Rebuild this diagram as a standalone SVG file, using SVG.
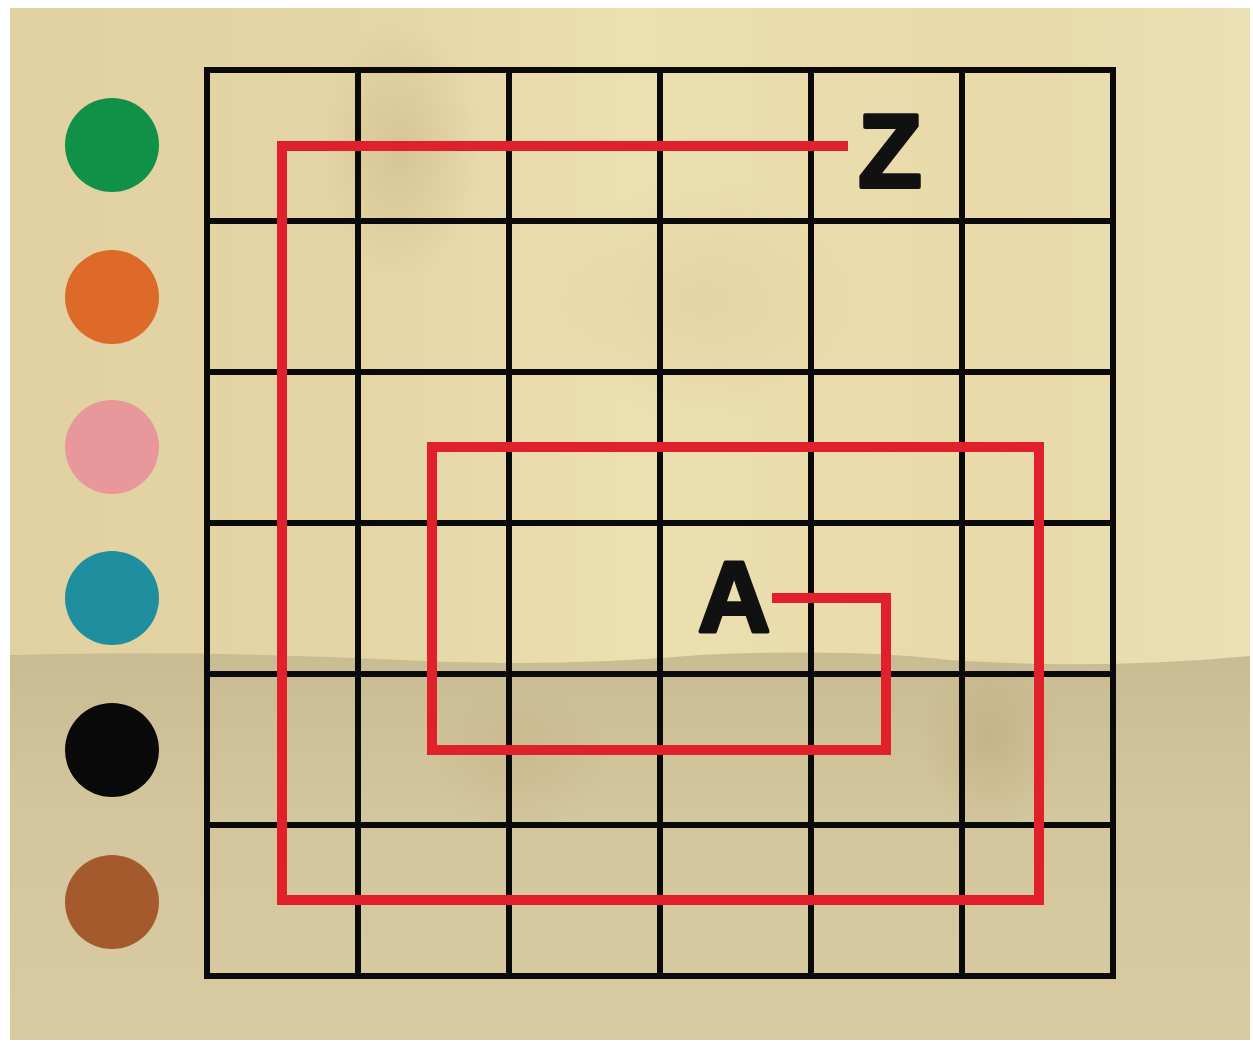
<svg xmlns="http://www.w3.org/2000/svg" width="1253" height="1048" viewBox="0 0 1253 1048">
<defs>
<linearGradient id="paperTop" x1="0" y1="0" x2="1" y2="0">
<stop offset="0" stop-color="#e1d1a0"/>
<stop offset="0.3" stop-color="#e5d6a6"/>
<stop offset="0.5" stop-color="#ecdfb0"/>
<stop offset="0.8" stop-color="#e8daa9"/>
<stop offset="1" stop-color="#ebdfb4"/>
</linearGradient>
<linearGradient id="paperBot" x1="0" y1="0" x2="0" y2="1">
<stop offset="0" stop-color="#c9bb92"/>
<stop offset="0.4" stop-color="#d3c59c"/>
<stop offset="1" stop-color="#d8caa1"/>
</linearGradient>
<radialGradient id="stain" cx="0.5" cy="0.5" r="0.5">
<stop offset="0" stop-color="#a8905e" stop-opacity="0.25"/>
<stop offset="1" stop-color="#a8905e" stop-opacity="0"/>
</radialGradient>
<style>
.grid{stroke:#0a0a0a;stroke-width:6;fill:none;stroke-linecap:square}
.path{stroke:#e0202a;stroke-width:10;fill:none;stroke-linejoin:miter}
.letter{font-family:"Liberation Sans",Arial,sans-serif;font-weight:bold;fill:#111;stroke:#111;stroke-width:4;stroke-linejoin:round;text-anchor:middle}
</style>
</defs>
<rect x="0" y="0" width="1253" height="1048" fill="#ffffff"/>
<g id="paper">
<rect x="10" y="8" width="1240" height="1032" fill="url(#paperTop)"/>
<ellipse cx="400" cy="150" rx="80" ry="130" fill="url(#stain)"/>
<ellipse cx="700" cy="300" rx="160" ry="120" fill="url(#stain)" opacity="0.5"/>
<path d="M10 655 Q200 650 400 660 Q550 668 700 655 Q850 648 950 660 Q1100 670 1250 656 L1250 1040 L10 1040 Z" fill="url(#paperBot)"/>
<ellipse cx="990" cy="740" rx="70" ry="90" fill="url(#stain)"/>
<ellipse cx="520" cy="760" rx="90" ry="70" fill="url(#stain)" opacity="0.6"/>
</g>
<g id="legend">
<circle id="c-green" cx="112" cy="145" r="47" fill="#0f9148"/>
<circle id="c-orange" cx="112" cy="297" r="47" fill="#de6a2a"/>
<circle id="c-pink" cx="112" cy="447" r="47" fill="#e8979b"/>
<circle id="c-teal" cx="112" cy="598" r="47" fill="#1f8fa0"/>
<circle id="c-black" cx="112" cy="750" r="47" fill="#0a0a0a"/>
<circle id="c-brown" cx="112" cy="902" r="47" fill="#a45a2c"/>
</g>
<g id="grid" class="grid">
<rect x="207" y="70" width="906" height="906"/>
<path d="M358 70V976M509 70V976M660 70V976M811 70V976M962 70V976"/>
<path d="M207 221H1113M207 372H1113M207 523H1113M207 674H1113M207 825H1113"/>
</g>
<g id="connectors">
<path class="path" d="M848 146 H282 V900 H1039 V447 H432 V750 H886 V598 H772"/>
</g>
<g id="node-Z"><text class="letter" x="890" y="187" font-size="104">Z</text></g>
<g id="node-A"><text class="letter" x="734" y="632" font-size="100">A</text></g>
</svg>
